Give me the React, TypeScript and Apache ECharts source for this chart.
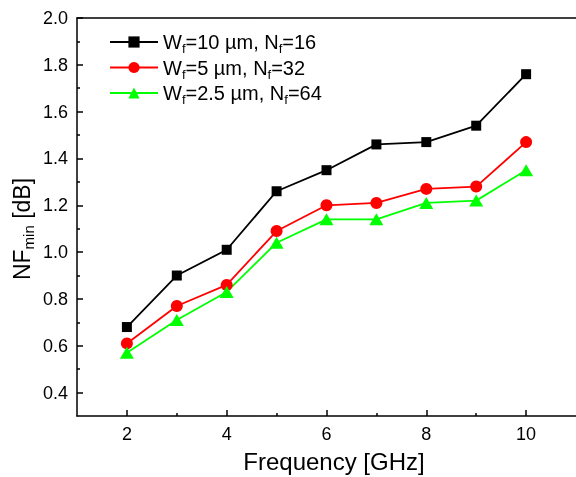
import React, { useEffect, useRef } from "react";
import * as echarts from "echarts";

const frequency = [2, 3, 4, 5, 6, 7, 8, 9, 10];
const nfWf10 = [0.68, 0.9, 1.01, 1.26, 1.35, 1.46, 1.47, 1.54, 1.76];
const nfWf5 = [0.61, 0.77, 0.86, 1.09, 1.2, 1.21, 1.27, 1.28, 1.47];
const nfWf25 = [0.57, 0.71, 0.83, 1.04, 1.14, 1.14, 1.21, 1.22, 1.35];

const xMajor = [2, 4, 6, 8, 10];
const xMinor = [3, 5, 7, 9];
const yMajor = [0.4, 0.6, 0.8, 1.0, 1.2, 1.4, 1.6, 1.8, 2.0];
const yMinor = [0.5, 0.7, 0.9, 1.1, 1.3, 1.5, 1.7, 1.9];

const legendLabels = [
  "{n|W}{s|f}{n|=10 µm, N}{s|f}{n|=16}",
  "{n|W}{s|f}{n|=5 µm, N}{s|f}{n|=32}",
  "{n|W}{s|f}{n|=2.5 µm, N}{s|f}{n|=64}",
];
const seriesNames = ["Wf=10 µm, Nf=16", "Wf=5 µm, Nf=32", "Wf=2.5 µm, Nf=64"];

const FONT = "'Liberation Sans', Arial, sans-serif";

export default function App() {
  const ref = useRef<HTMLDivElement>(null);
  useEffect(() => {
    if (!ref.current) return;
    const chart = echarts.init(ref.current, null, { renderer: "svg" });
    const pairs = (ys: number[]) => frequency.map((f, i) => [f, ys[i]]);
    const axisBase = {
      type: "value" as const,
      splitLine: { show: false },
    };
    chart.setOption({
      animation: false,
      textStyle: { fontFamily: FONT },
      grid: {
        left: 77,
        top: 18,
        width: 499,
        height: 398,
        show: false,
        outerBoundsMode: "none",
      },
      legend: {
        orient: "vertical",
        left: 104,
        top: 27,
        itemWidth: 48,
        itemHeight: 14,
        itemGap: 2.5,
        data: seriesNames,
        formatter: (name: string) => legendLabels[seriesNames.indexOf(name)],
        textStyle: {
          fontFamily: FONT,
          color: "#000",
          rich: {
            n: { fontSize: 20, lineHeight: 20, fontFamily: FONT, color: "#000", verticalAlign: "top" },
            s: { fontSize: 13, lineHeight: 13, fontFamily: FONT, color: "#000", padding: [10, 0, 0, 0], verticalAlign: "top" },
          },
        },
      },
      xAxis: [
        {
          ...axisBase,
          min: 1,
          max: 11,
          position: "bottom",
          axisLine: { show: true, onZero: false, lineStyle: { color: "#000", width: 1.5 } },
          axisTick: { show: true, inside: true, length: 6, customValues: xMajor, lineStyle: { color: "#000", width: 1.5 } },
          axisLabel: { customValues: xMajor, color: "#000", fontSize: 18, fontFamily: FONT, margin: 9 },
        },
        {
          ...axisBase,
          min: 1,
          max: 11,
          position: "bottom",
          axisLine: { show: false, onZero: false },
          axisTick: { show: true, inside: true, length: 3, customValues: xMinor, lineStyle: { color: "#000", width: 1.5 } },
          axisLabel: { show: false },
        },
        {
          ...axisBase,
          min: 1,
          max: 11,
          position: "top",
          axisLine: { show: true, onZero: false, lineStyle: { color: "#000", width: 1.5 } },
          axisTick: { show: false },
          axisLabel: { show: false },
        },
      ],
      yAxis: [
        {
          ...axisBase,
          min: 0.3,
          max: 2.0,
          position: "left",
          axisLine: { show: true, onZero: false, lineStyle: { color: "#000", width: 1.5 } },
          axisTick: { show: true, inside: true, length: 6, customValues: yMajor, lineStyle: { color: "#000", width: 1.5 } },
          axisLabel: {
            customValues: yMajor,
            color: "#000",
            fontSize: 18,
            fontFamily: FONT,
            margin: 9,
            formatter: (v: number) => v.toFixed(1),
          },
        },
        {
          ...axisBase,
          min: 0.3,
          max: 2.0,
          position: "left",
          axisLine: { show: false, onZero: false },
          axisTick: { show: true, inside: true, length: 3, customValues: yMinor, lineStyle: { color: "#000", width: 1.5 } },
          axisLabel: { show: false },
        },
      ],
      graphic: [
        {
          type: "text",
          x: 334,
          y: 461,
          style: {
            text: "Frequency [GHz]",
            fontSize: 24,
            fontFamily: FONT,
            fill: "#000",
            textAlign: "center",
            textVerticalAlign: "middle",
          },
        },
        {
          type: "text",
          x: 22,
          y: 229,
          rotation: Math.PI / 2,
          style: {
            text: "{a|NF}{b|min}{a| [dB]}",
            fontFamily: FONT,
            fill: "#000",
            textAlign: "center",
            textVerticalAlign: "middle",
            rich: {
              a: { fontSize: 23, lineHeight: 24, fontFamily: FONT, fill: "#000", verticalAlign: "top" },
              b: { fontSize: 15, lineHeight: 15, fontFamily: FONT, fill: "#000", padding: [11, 0, 0, 0], verticalAlign: "top" },
            },
          },
        },
      ],
      series: [
        {
          name: seriesNames[0],
          type: "line",
          data: pairs(nfWf10),
          symbol: "rect",
          symbolSize: 10,
          itemStyle: { color: "#000" },
          lineStyle: { color: "#000", width: 1.8 },
        },
        {
          name: seriesNames[1],
          type: "line",
          data: pairs(nfWf5),
          symbol: "circle",
          symbolSize: 12,
          itemStyle: { color: "#ff0000" },
          lineStyle: { color: "#ff0000", width: 1.8 },
        },
        {
          name: seriesNames[2],
          type: "line",
          data: pairs(nfWf25),
          symbol: "triangle",
          symbolSize: [14, 12],
          itemStyle: { color: "#00ff00" },
          lineStyle: { color: "#00ff00", width: 1.8 },
        },
      ],
    });
    return () => chart.dispose();
  }, []);
  return (
    <div
      ref={ref}
      style={{ position: "fixed", left: 0, top: 0, width: 576, height: 477 }}
    />
  );
}
